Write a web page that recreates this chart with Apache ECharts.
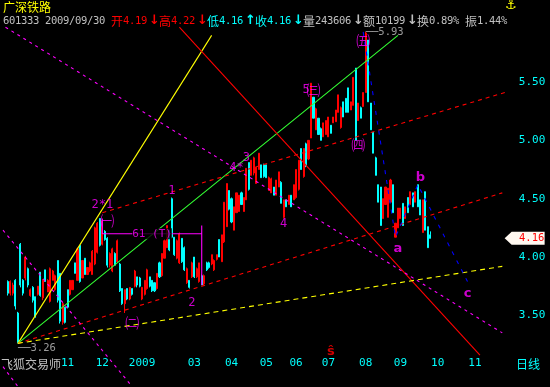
<!DOCTYPE html>
<html>
<head>
<meta charset="utf-8">
<style>
  html, body { margin: 0; padding: 0; background: #000; }
  #main { width: 550px; height: 387px; }
</style>
<script src="https://cdn.jsdelivr.net/npm/echarts@6/dist/echarts.min.js"></script>
</head>
<body>
<div id="main"></div>
<script>
// 日K 数据 [开, 收, 低, 高]，从 candleStart 这一格开始
const candleStart = 2
const candles = [
  [3.79,3.69,3.67,3.80],[3.69,3.79,3.67,3.80],[3.69,3.76,3.67,3.78],[3.80,3.58,3.55,3.81],[3.52,3.27,3.26,3.53],
  [4.11,3.76,3.74,4.12],[3.80,3.69,3.67,3.81],[3.82,4.00,3.80,4.01],[3.90,3.76,3.74,3.91],[3.67,3.72,3.66,3.73],
  [3.74,3.63,3.61,3.75],[3.66,3.49,3.48,3.66],[3.68,3.75,3.67,3.75],[3.87,3.67,3.66,3.87],[3.65,3.80,3.63,3.81],
  [3.89,3.79,3.79,3.89],[3.70,3.80,3.70,3.81],[3.62,3.90,3.61,3.91],[3.80,3.88,3.80,3.89],[3.72,3.84,3.71,3.85],
  [3.97,3.63,3.61,3.97],[3.86,3.45,3.43,3.86],[3.44,3.60,3.42,3.61],[3.57,3.44,3.43,3.57],[3.72,3.57,3.56,3.72],
  [3.68,3.80,3.67,3.80],[3.72,3.80,3.72,3.80],[3.95,3.86,3.86,3.95],[3.80,4.07,3.80,4.08],[4.10,3.79,3.78,4.10],
  [3.82,3.97,3.82,3.97],[3.99,3.85,3.85,3.99],[3.85,3.91,3.85,3.91],[3.88,3.95,3.87,3.96],[3.85,4.05,3.85,4.06],
  [3.94,4.25,3.93,4.26],[4.04,4.29,4.03,4.30],[4.33,4.10,4.09,4.33],[4.11,4.31,4.10,4.32],[4.22,4.15,4.14,4.23],
  [4.16,3.93,3.91,4.17],[3.93,4.03,3.91,4.04],[3.88,4.07,3.87,4.08],[4.03,3.93,3.93,4.04],[3.96,4.14,3.95,4.15],
  [3.94,3.71,3.70,3.95],[3.73,3.60,3.59,3.73],[3.60,3.72,3.52,3.72],[3.73,3.64,3.63,3.73],[3.64,3.74,3.63,3.74],
  [3.73,3.68,3.67,3.73],[3.75,3.88,3.74,3.89],[3.83,3.76,3.74,3.83],[3.82,3.75,3.74,3.83],[3.64,3.74,3.63,3.74],
  [3.68,3.80,3.67,3.80],[3.73,3.89,3.72,3.90],[3.83,3.75,3.74,3.83],[3.80,3.71,3.70,3.80],[3.78,3.71,3.70,3.78],
  [3.73,3.86,3.72,3.86],[3.95,3.83,3.82,3.96],[3.84,4.03,3.83,4.03],[3.99,4.14,3.99,4.15],[4.08,4.27,4.08,4.27],
  [4.23,4.06,4.05,4.23],[4.50,4.17,4.16,4.51],[4.17,4.02,4.01,4.17],[3.99,4.14,3.98,4.15],[3.95,4.20,3.94,4.21],
  [4.16,3.96,3.95,4.16],[4.08,3.89,3.88,4.09],[3.78,3.90,3.77,3.91],[3.80,3.74,3.73,3.80],[3.83,3.95,3.82,3.96],
  [4.00,3.83,3.82,4.00],[3.83,3.90,3.82,3.91],[3.79,3.95,3.78,3.95],[3.84,3.76,3.76,3.85],[3.77,3.84,3.76,3.85],
  [3.95,3.89,3.88,3.96],[3.95,3.91,3.90,3.96],[3.94,4.02,3.93,4.02],[3.89,3.97,3.88,3.98],[3.98,4.02,3.97,4.02],
  [4.15,4.00,4.00,4.15],[3.96,4.19,3.96,4.19],[4.13,4.47,4.12,4.47],[4.26,4.63,4.26,4.63],[4.57,4.41,4.40,4.57],
  [4.50,4.30,4.29,4.51],[4.23,4.43,4.23,4.43],[4.38,4.55,4.38,4.55],[4.39,4.53,4.39,4.53],[4.55,4.45,4.45,4.56],
  [4.39,4.51,4.39,4.51],[4.49,4.76,4.49,4.76],[4.81,4.58,4.57,4.81],[4.70,4.83,4.70,4.83],[4.72,4.85,4.70,4.86],
  [4.63,4.77,4.63,4.77],[4.75,4.89,4.75,4.89],[4.79,4.68,4.68,4.79],[4.79,4.69,4.68,4.80],[4.79,4.68,4.68,4.79],
  [4.57,4.68,4.57,4.69],[4.55,4.67,4.55,4.68],[4.60,4.53,4.53,4.60],[4.53,4.66,4.53,4.66],[4.60,4.73,4.60,4.73],
  [4.64,4.46,4.46,4.65],[4.34,4.49,4.33,4.49],[4.49,4.43,4.43,4.49],[4.45,4.53,4.45,4.53],[4.53,4.43,4.43,4.53],
  [4.49,4.62,4.49,4.62],[4.51,4.75,4.50,4.75],[4.58,4.83,4.57,4.83],[4.93,4.75,4.75,4.93],[4.69,4.93,4.68,4.93],
  [4.97,4.78,4.77,4.98],[4.84,5.00,4.83,5.00],[5.02,5.49,5.02,5.49],[5.37,5.19,5.19,5.37],[5.09,5.27,5.09,5.28],
  [5.19,5.05,5.05,5.19],[5.10,5.00,5.00,5.11],[5.03,5.15,5.03,5.15],[5.05,5.17,5.05,5.17],[5.03,5.20,5.03,5.20],
  [5.13,5.06,5.06,5.13],[5.15,5.20,5.15,5.20],[5.16,5.26,5.16,5.26],[5.24,5.39,5.24,5.39],[5.11,5.28,5.10,5.29],
  [5.33,5.20,5.20,5.33],[5.36,5.24,5.24,5.36],[5.45,5.24,5.24,5.45],[5.26,5.33,5.26,5.33],[5.30,5.54,5.30,5.54],
  [5.62,5.00,5.00,5.62],[5.17,5.32,5.17,5.32],[5.28,5.19,5.19,5.29],[5.29,5.41,5.29,5.41],[5.41,5.92,5.41,5.93],
  [5.86,5.33,5.33,5.86],[5.32,5.09,5.09,5.32],[5.07,4.89,4.89,5.07],[4.85,4.70,4.70,4.86],[4.62,4.47,4.47,4.62],
  [4.60,4.27,4.27,4.60],[4.33,4.50,4.33,4.50],[4.45,4.60,4.45,4.60],[4.34,4.59,4.34,4.59],[4.47,4.66,4.47,4.67],
  [4.62,4.38,4.38,4.62],[4.17,4.29,4.17,4.29],[4.25,4.42,4.25,4.42],[4.33,4.42,4.33,4.42],[4.46,4.27,4.27,4.46],
  [4.33,4.43,4.33,4.43],[4.51,4.38,4.38,4.51],[4.45,4.56,4.45,4.56],[4.55,4.43,4.43,4.55],[4.47,4.56,4.47,4.56],
  [4.62,4.43,4.43,4.62],[4.49,4.36,4.36,4.49],[4.21,4.49,4.21,4.49],[4.56,4.23,4.23,4.56],[4.26,4.08,4.08,4.26],
  [4.19,4.16,4.16,4.22]
]

// 坐标轴
const slotCount = 220
const monthSlots = [26, 40, 56, 77, 92, 106, 118, 131, 146, 160, 175, 190]
const monthTicks = ['11', '12', '2009', '03', '04', '05', '06', '07', '08', '09', '10', '11']
const priceTicks = [3.5, 4, 4.5, 5, 5.5]

// 画线 [格, 价]
const yellowLine = [[6, 3.26], [84, 5.90]]
const greenLine = [[6, 3.26], [159, 5.90]]
const redLine = [[71, 5.97], [192, 3.16]]
const redDashLow = [[6, 3.26], [201, 4.55]]
const redDashHigh = [[40, 4.38], [202, 5.41]]
const yellowDash = [[6, 3.26], [201, 3.92]]
const magentaDashLong = [[1, 5.97], [201, 3.35]]
const magentaDashLeft = [[0, 4.23], [52, 2.89]]
const magentaDashCorner = [[0, 3.06], [6, 2.89]]
const waveLine = [[145, 5.93], [158, 4.17], [167, 4.62], [187, 3.79]]
const measureLine = [[40, 4.33], [40, 4.20], [80, 4.20], [80, 4.27], [80, 3.76]]

// 标注 [格, 价, 文字]
const waveLabels = [
  [40, 4.45, '2*1'], [68, 4.57, '1'], [76, 3.61, '2'],
  [94, 4.76, '4*'], [98, 4.85, '3'], [113, 4.28, '4'], [122, 5.43, '5']
]
const circledLabels = [[42, 4.31, '㈠'], [52, 3.44, '㈡'], [125, 5.43, '㈢'], [143, 4.96, '㈣'], [145, 5.85, '㈤']]
const measureLabels = [[60, 4.20, '61 (T)']]
const abcLabels = [[159, 4.07, 'a'], [168, 4.68, 'b'], [187, 3.69, 'c']]
const highLabels = [[146, 5.93, '──5.93']]
const lowLabels = [[6, 3.26, '──3.26']]
const signalLabels = [[132, 3.19, 'ŝ']]
const lastClose = [210, 4.16]

// 表头
const stockName = '广深铁路'
const headerRuns = [
  ['601333 2009/09/30 ', '#C0C0C0'],
  ['开4.19↓', '#FF0000'], ['高4.22↓', '#FF0000'],
  ['低4.16↑', '#00FFFF'], ['收4.16↓', '#00FFFF'],
  ['量243606↓', '#C0C0C0'], ['额10199↓', '#C0C0C0'],
  ['换0.89% ', '#C0C0C0'], ['振1.44%', '#C0C0C0']
]

const MONO = '"DejaVu Sans Mono", monospace'
const CJK = '"Noto Sans CJK SC", sans-serif'
const SANS = '"DejaVu Sans", sans-serif'

const categories = new Array(slotCount).fill('')
monthSlots.forEach((s, i) => { categories[s] = monthTicks[i] })

// 表头按等宽格子排：西文一格6px，中文两格
function headerGraphics() {
  const items = []
  let x = 3
  headerRuns.forEach(([text, color]) => {
    for (const ch of text) {
      const isCjk = ch.charCodeAt(0) > 0x2E7F
      const isArrow = ch === '↓' || ch === '↑'
      if (isArrow) x += 2
      if (ch !== ' ') {
        const font = isCjk ? '12px ' + CJK : isArrow ? 'bold 13px "DejaVu Sans"' : '10.5px ' + MONO
        items.push({
          type: 'text', x: x, y: 21,
          style: { text: ch, fill: color, font: font, textVerticalAlign: 'middle' }
        })
      }
      x += isArrow ? 10 : isCjk ? 12 : 6
    }
  })
  return items
}

const plainText = (x, y, text, color, font) => ({
  type: 'text', x, y, style: { text, fill: color, font, textVerticalAlign: 'middle' }
})

function trendLine(data, color, dash) {
  return {
    type: 'line', data, showSymbol: false, silent: true, animation: false, z: 5,
    lineStyle: { color, width: 1.1, type: dash || 'solid' }
  }
}

function labelSeries(rows, color, family, size, extra) {
  return {
    type: 'scatter', symbolSize: 0, silent: true, animation: false, z: 8, clip: false,
    data: rows.map(r => ({ value: [r[0], r[1]], text: r[2] })),
    label: Object.assign({
      show: true, position: 'inside', color, fontFamily: family, fontSize: size,
      formatter: p => p.data.text
    }, extra || {})
  }
}

const chart = echarts.init(document.getElementById('main'), null, { renderer: 'canvas' })

chart.setOption({
  animation: false,
  backgroundColor: '#000000',
  grid: { left: 0, right: 0, top: 0, bottom: 0 },
  xAxis: {
    type: 'category',
    data: categories,
    boundaryGap: true,
    axisLine: { show: false },
    axisTick: { show: false },
    splitLine: { show: false },
    axisLabel: { inside: true, interval: 0, margin: 18, color: '#00FFFF', fontFamily: MONO, fontSize: 11 }
  },
  yAxis: {
    type: 'value',
    position: 'right',
    scale: true,
    min: 2.886,
    max: 6.203,
    axisLine: { show: false },
    axisTick: { show: false },
    splitLine: { show: false },
    axisLabel: {
      inside: true, margin: 3, color: '#00FFFF', fontFamily: MONO, fontSize: 11,
      customValues: priceTicks,
      formatter: v => v.toFixed(2)
    }
  },
  series: [
    {
      type: 'candlestick',
      data: new Array(candleStart).fill('-').concat(candles),
      barWidth: 1.6,
      silent: true,
      itemStyle: { color: '#FF0000', color0: '#00FFFF', borderColor: '#FF0000', borderColor0: '#00FFFF', borderWidth: 1 }
    },
    trendLine(yellowLine, '#FFFF00'),
    trendLine(greenLine, '#33FF33'),
    trendLine(redLine, '#FF0000'),
    trendLine(redDashLow, '#FF0000', [4, 4]),
    trendLine(redDashHigh, '#FF0000', [4, 4]),
    trendLine(yellowDash, '#FFFF00', [5, 4]),
    trendLine(magentaDashLong, '#FF00FF', [3, 4]),
    trendLine(magentaDashLeft, '#FF00FF', [3, 4]),
    trendLine(magentaDashCorner, '#FF00FF', [3, 4]),
    trendLine(waveLine, '#0000FF', [4, 6]),
    trendLine(measureLine, '#FF00FF'),
    labelSeries(waveLabels, '#FF00FF', MONO, 12),
    labelSeries(circledLabels, '#FF00FF', CJK, 14),
    labelSeries(measureLabels, '#FF00FF', MONO, 11, { backgroundColor: '#000000' }),
    labelSeries(abcLabels, '#FF00FF', SANS, 13, { fontWeight: 'bold' }),
    labelSeries(highLabels, '#C0C0C0', MONO, 10.5, { position: 'right', distance: 0 }),
    labelSeries(lowLabels, '#C0C0C0', MONO, 10.5, { position: 'right', distance: 0, offset: [0, 5] }),
    labelSeries(signalLabels, '#FF0000', SANS, 13, { fontWeight: 'bold' }),
    {
      type: 'scatter', silent: true, animation: false, z: 9, clip: false,
      symbol: 'path://M0 6.5 L7 0 L40 0 L40 13 L7 13 Z',
      symbolSize: [40, 13],
      symbolKeepAspect: false,
      itemStyle: { color: '#FFF8F0', opacity: 1 },
      data: [lastClose],
      label: {
        show: true, position: 'inside', offset: [7, 0], color: '#FF0000',
        fontFamily: MONO, fontSize: 10.5, formatter: p => p.value[1].toFixed(2)
      }
    }
  ],
  graphic: [
    plainText(3, 7, stockName, '#FFFF00', '12px ' + CJK),
    plainText(1, 364, '飞狐交易师', '#C0C0C0', '12px ' + CJK),
    plainText(516, 364, '日线', '#00FFFF', '12px ' + CJK),
    plainText(505, 6, '⚓', '#FFFF00', '13px "DejaVu Sans", sans-serif')
  ].concat(headerGraphics())
})
</script>
</body>
</html>
